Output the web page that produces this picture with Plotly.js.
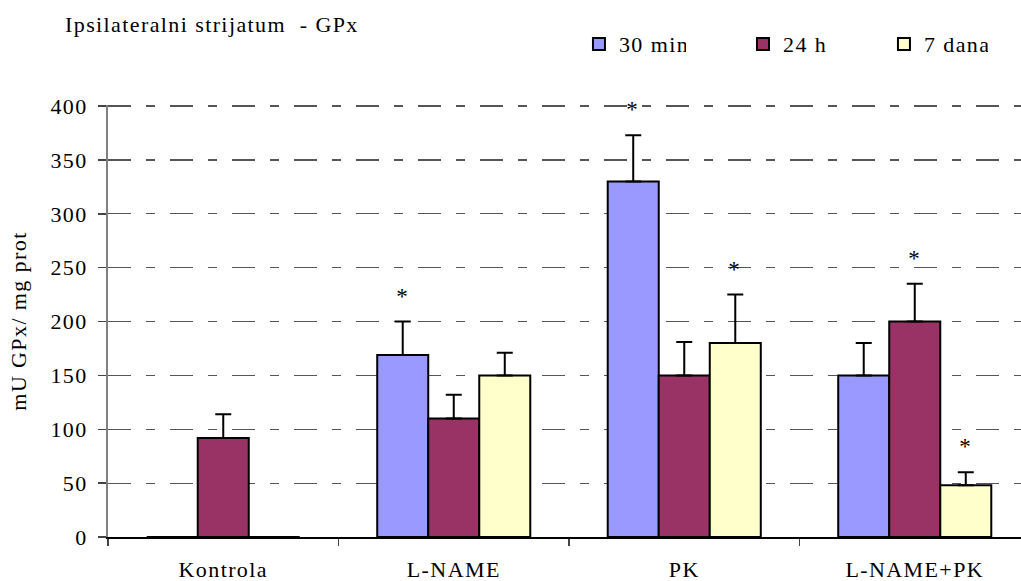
<!DOCTYPE html>
<html>
<head>
<meta charset="utf-8">
<script src="https://cdn.plot.ly/plotly-3.0.1.min.js"></script>
<style>
html,body{margin:0;padding:0;background:#fff;overflow:hidden}
#chart{width:1040px;height:581px}
#chart svg text{letter-spacing:1.4px}
</style>
</head>
<body>
<div id="chart"></div>
<script>
const categories = ["Kontrola", "L-NAME", "PK", "L-NAME+PK"];
const seriesNames = ["30 min", "24 h", "7 dana"];
const min30 = [0, 169, 330, 150];
const h24 = [92, 110, 150, 200];
const dana7 = [0, 150, 180, 48];
const min30Err = [0, 31, 43, 30];
const h24Err = [22, 22, 31, 35];
const dana7Err = [0, 21, 45, 12];
const min30Star = [false, true, true, false];
const h24Star = [false, false, false, true];
const dana7Star = [false, false, true, true];
const yTicks = [0, 50, 100, 150, 200, 250, 300, 350, 400];

const colors = ["#9999FF", "#993366", "#FFFFCC"];
const legendIds = ["legend", "legend2", "legend3"];
const values = [min30, h24, dana7];
const errs = [min30Err, h24Err, dana7Err];
const stars = [min30Star, h24Star, dana7Star];

const traces = values.map((v, i) => ({
  type: "bar",
  name: seriesNames[i],
  legend: legendIds[i],
  x: categories,
  y: v,
  marker: {color: colors[i], line: {color: "#000", width: 2}},
  error_y: {type: "data", symmetric: false, array: errs[i], arrayminus: v.map(() => 0),
            color: "#000", thickness: 2, width: 8, visible: true}
}));

const barW = 51;
const annotations = [];
stars.forEach((s, i) => {
  s.forEach((flag, j) => {
    if (flag) {
      annotations.push({
        xref: "x", yref: "y", x: categories[j], y: values[i][j] + errs[i][j],
        xshift: (i - 1) * barW, yshift: 11, yanchor: "bottom",
        text: "*", showarrow: false,
        font: {family: "Liberation Serif", size: 23, color: "#000"}
      });
    }
  });
});

const legendFont = {family: "Liberation Serif", size: 22, color: "#000"};
const legendX = [0.5108, 0.6887, 0.8416];
const layout = {
  width: 1040, height: 581,
  margin: {l: 108, r: 10, t: 105, b: 44},
  paper_bgcolor: "#fff", plot_bgcolor: "#fff",
  font: {family: "Liberation Serif", size: 22, color: "#000"},
  title: {text: "Ipsilateralni strijatum  - GPx", x: 0.0625, xanchor: "left", y: 0.959, yanchor: "middle",
          font: {family: "Liberation Serif", size: 22, color: "#000"}},
  barmode: "group", bargap: 0.336, bargroupgap: 0,
  showlegend: true,
  legend: {x: legendX[0], xanchor: "left", y: 1.141, yanchor: "middle", font: legendFont, bgcolor: "rgba(0,0,0,0)"},
  legend2: {x: legendX[1], xanchor: "left", y: 1.141, yanchor: "middle", font: legendFont, bgcolor: "rgba(0,0,0,0)"},
  legend3: {x: legendX[2], xanchor: "left", y: 1.141, yanchor: "middle", font: legendFont, bgcolor: "rgba(0,0,0,0)"},
  xaxis: {type: "category", showline: true, linecolor: "#000", linewidth: 1.5,
          ticks: "outside", tickson: "boundaries", ticklen: 7, tickcolor: "#444", tickwidth: 1.5,
          showgrid: false, tickfont: {size: 22}, ticklabelstandoff: 12},
  yaxis: {range: [0, 401], tickvals: yTicks, showline: true, linecolor: "#808080", linewidth: 2,
          ticks: "outside", ticklen: 8, tickcolor: "#444", tickwidth: 1.5,
          showgrid: true, gridcolor: "#555",
          griddash: "23px,15px,9px,15px", gridwidth: 1.2, zeroline: false, tickfont: {size: 22},
          ticklabelstandoff: 6,
          title: {text: "mU GPx/ mg prot", font: {size: 22}, standoff: 22}},
  annotations: annotations
};

Plotly.newPlot("chart", traces, layout, {displayModeBar: false, staticPlot: true});
</script>
</body>
</html>
